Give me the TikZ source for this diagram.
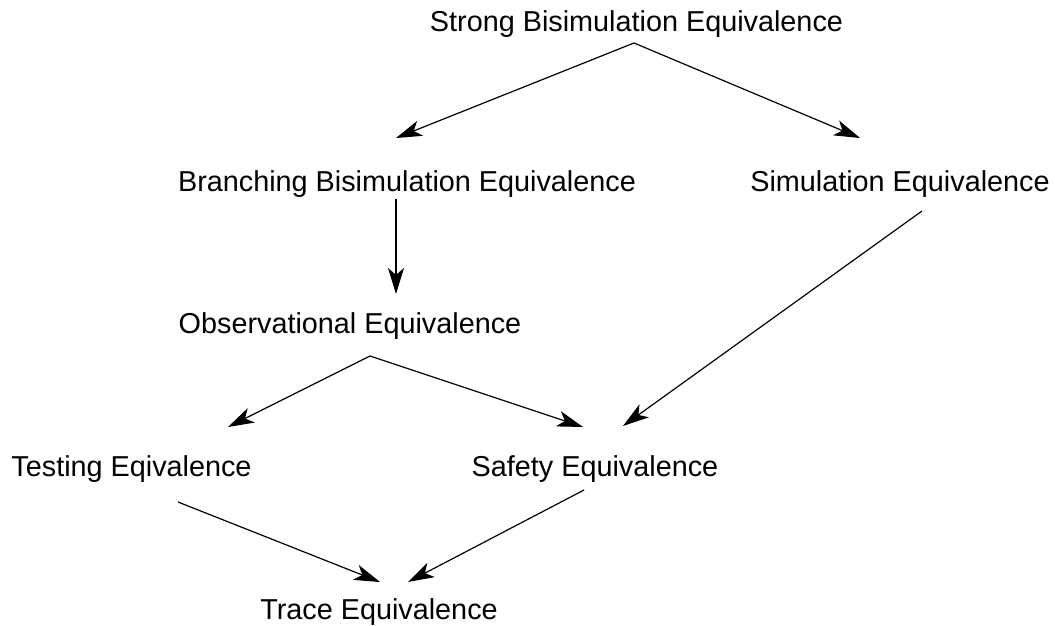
\documentclass[tikz,border=0pt]{standalone}
\usepackage{fontspec}
\setmainfont{Liberation Sans}
\usetikzlibrary{arrows.meta}
\begin{document}
\begin{tikzpicture}[x=1pt,y=-1pt,
  lbl/.style={anchor=base,inner sep=0pt,font=\fontsize{28.8}{34}\selectfont},
  arr/.style={line width=1.2pt,-{Stealth[length=26pt,width=16pt,inset=7pt]}}]
\useasboundingbox (0,0) rectangle (1055,626);
\node[lbl] (sb) at (636.5,32) {Strong Bisimulation Equivalence};
\node[lbl] (bb) at (407,191) {Branching Bisimulation Equivalence};
\node[lbl] (sim) at (900,191) {Simulation Equivalence};
\node[lbl] (obs) at (350,333) {Observational Equivalence};
\node[lbl] (test) at (131.5,476) {Testing Eqivalence};
\node[lbl] (safe) at (595,476) {Safety Equivalence};
\node[lbl] (trace) at (379,619) {Trace Equivalence};
\coordinate (sbo) at (634,43);
\coordinate (bbi) at (396,138);
\coordinate (simi) at (860,138);
\coordinate (bbo) at (396,199);
\coordinate (obsi) at (396,294);
\coordinate (simo) at (922,211);
\coordinate (safei) at (623,426);
\coordinate (obso) at (370,356);
\coordinate (testi) at (228,427);
\coordinate (safei2) at (583,427);
\coordinate (testo) at (178,502);
\coordinate (tracei) at (380,582);
\coordinate (safeo) at (584,490);
\coordinate (tracei2) at (408,582);
\draw[arr] (sbo) -- (bbi);
\draw[arr] (sbo) -- (simi);
\draw[arr] (bbo) -- (obsi);
\draw[arr] (simo) -- (safei);
\draw[arr] (obso) -- (testi);
\draw[arr] (obso) -- (safei2);
\draw[arr] (testo) -- (tracei);
\draw[arr] (safeo) -- (tracei2);
\end{tikzpicture}
\end{document}
